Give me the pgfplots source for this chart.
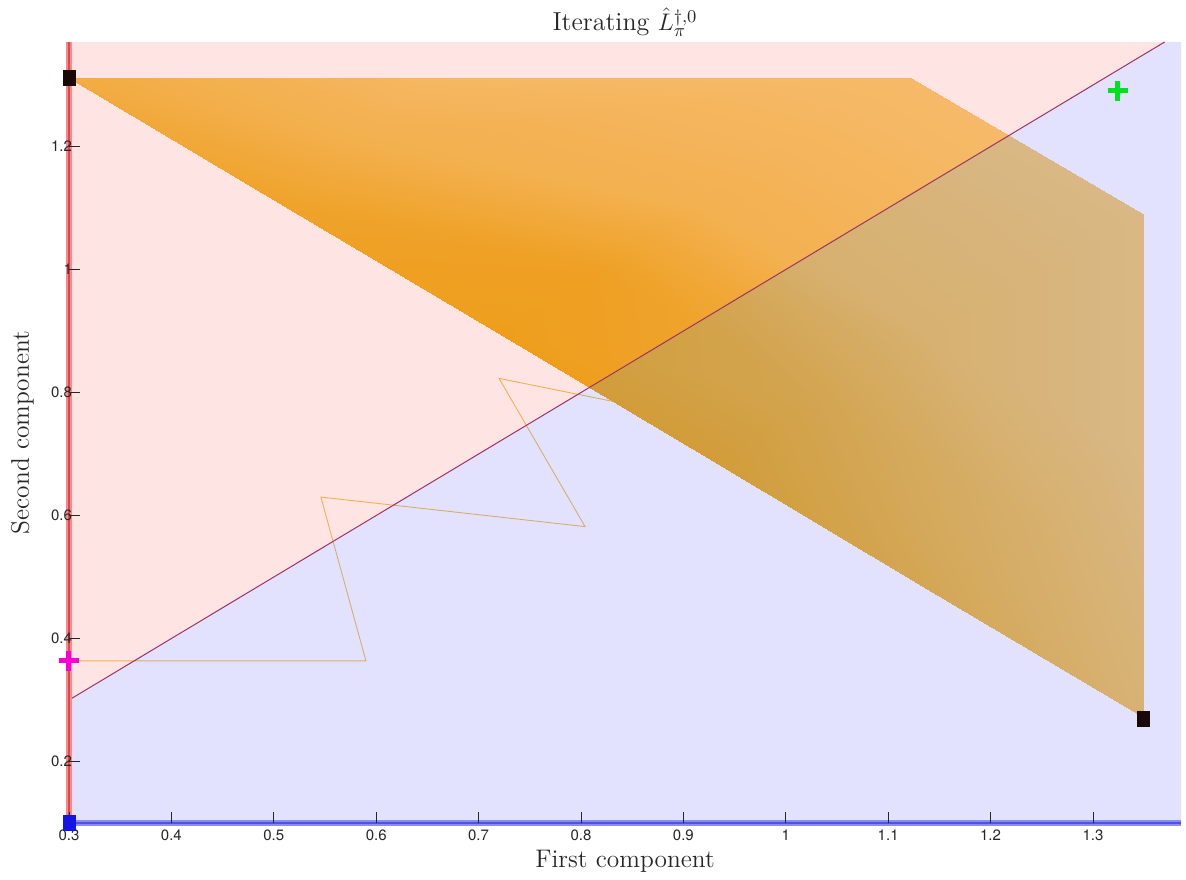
\documentclass[border=0pt]{standalone}
\usepackage{pgfplots}
\pgfplotsset{compat=1.18}
\usepackage{fontspec}
\newfontfamily\ticksf{TeX Gyre Heros}
\definecolor{tickgray}{RGB}{38,38,38}
\definecolor{morange}{RGB}{237,177,32}
\definecolor{diagline}{RGB}{160,50,100}
\definecolor{redthick}{RGB}{245,140,140}
\definecolor{redcore}{RGB}{225,70,80}
\definecolor{bluethick}{RGB}{140,140,240}
\definecolor{bluecore}{RGB}{80,80,225}
\definecolor{mmag}{RGB}{250,0,215}
\definecolor{mgreen}{RGB}{0,225,30}
\definecolor{mblack}{RGB}{25,8,8}
\definecolor{mblue}{RGB}{20,20,230}
\begin{document}
\begin{tikzpicture}
\begin{axis}[
  scale only axis,
  width=556pt, height=390.5pt,
  xmin=0.3, xmax=1.386, ymin=0.1, ymax=1.37,
  clip=false,
  axis on top,
  axis lines*=left,
  axis line style={draw=none},
  xtick={0.3,0.4,0.5,0.6,0.7,0.8,0.9,1,1.1,1.2,1.3},
  ytick={0.2,0.4,0.6,0.8,1,1.2},
  tick align=inside,
  major tick length=5.5pt,
  tick style={tickgray, line width=0.4pt},
  /pgf/number format/assume math mode=true,
  ticklabel style={font=\ticksf\fontsize{7.5}{8}\selectfont, text=tickgray},
  yticklabel style={xshift=5pt},
  xlabel={First component},
  ylabel={Second component},
  title={Iterating $\hat{L}_{\pi}^{\dagger,0}$},
  label style={font=\fontsize{12.7}{14}\selectfont, text=tickgray},
  xlabel style={at={(axis description cs:0.5,0)}, anchor=base, yshift=-22pt},
  ylabel style={at={(axis description cs:0,0.5)}, anchor=base, yshift=20pt},
  title style={font=\fontsize{13}{15}\selectfont, text=black!85, at={(axis description cs:0.5,1)}, anchor=base, yshift=-0.5pt},
  colormap={fanmap}{rgb255=(255,248,228) rgb255=(237,177,32)},
  point meta min=0, point meta max=1,
]
% dense fan of iterates (density)
\addplot[patch, patch type=triangle, shader=interp, point meta=explicit] table[meta=c] {
x y c
0.3 1.312 0.78
0.51 1.104 0.92
0.545 1.156 0.82
0.3 1.312 0.78
0.545 1.156 0.82
0.58 1.208 0.72
0.3 1.312 0.78
0.58 1.208 0.72
0.65 1.312 0.6
0.51 1.104 0.92
0.719 0.896 1.0
0.82 1.0 0.95
0.51 1.104 0.92
0.82 1.0 0.95
0.545 1.156 0.82
0.545 1.156 0.82
0.82 1.0 0.95
0.9205 1.104 0.7
0.545 1.156 0.82
0.9205 1.104 0.7
0.58 1.208 0.72
0.58 1.208 0.72
0.9205 1.104 0.7
1.122 1.312 0.56
0.58 1.208 0.72
1.122 1.312 0.56
0.65 1.312 0.6
0.719 0.896 1.0
0.929 0.688 1.0
1.0335 0.7885 0.86
0.719 0.896 1.0
1.0335 0.7885 0.86
0.82 1.0 0.95
0.82 1.0 0.95
1.0335 0.7885 0.86
1.138 0.889 0.68
0.82 1.0 0.95
1.138 0.889 0.68
0.9205 1.104 0.7
0.9205 1.104 0.7
1.138 0.889 0.68
1.349 1.09 0.56
0.9205 1.104 0.7
1.349 1.09 0.56
1.122 1.312 0.56
0.929 0.688 1.0
1.138 0.48 0.84
1.191 0.535 0.76
0.929 0.688 1.0
1.191 0.535 0.76
1.0335 0.7885 0.86
1.0335 0.7885 0.86
1.191 0.535 0.76
1.2435 0.59 0.7
1.0335 0.7885 0.86
1.2435 0.59 0.7
1.138 0.889 0.68
1.138 0.889 0.68
1.2435 0.59 0.7
1.349 0.7 0.56
1.138 0.889 0.68
1.349 0.7 0.56
1.349 1.09 0.56
1.138 0.48 0.84
1.349 0.272 0.66
1.191 0.535 0.76
1.191 0.535 0.76
1.349 0.272 0.66
1.2435 0.59 0.7
1.2435 0.59 0.7
1.349 0.272 0.66
1.349 0.7 0.56
};
% first iterates
\addplot[morange, line width=0.45pt, opacity=0.75] coordinates {
(0.3,0.3636) (0.590,0.3636) (0.546,0.630) (0.804,0.582) (0.720,0.823) (0.830,0.786)
};
% regions
\addplot[draw=none, fill=red, fill opacity=0.105] coordinates {
(0.3,0.3) (0.3,1.37) (1.37,1.37)
} -- cycle;
\addplot[draw=none, fill=blue, fill opacity=0.115] coordinates {
(0.3,0.1) (0.3,0.3) (1.37,1.37) (1.386,1.37) (1.386,0.1)
} -- cycle;
% diagonal
\addplot[diagline, line width=0.5pt] coordinates {(0.3,0.3) (1.37,1.37)};
% boundary lines
\addplot[redthick, line width=3pt] coordinates {(0.3,0.1) (0.3,1.37)};
\addplot[redcore, line width=0.7pt] coordinates {(0.3,0.1) (0.3,1.37)};
\addplot[bluethick, line width=3pt] coordinates {(0.3,0.1) (1.386,0.1)};
\addplot[bluecore, line width=0.7pt] coordinates {(0.3,0.1) (1.386,0.1)};
% markers
\addplot[only marks, mark=square*, mark size=3pt, mark options={yscale=1.25, fill=mblack, draw=mblack}] coordinates {(0.3,1.312) (1.349,0.269)};
\addplot[only marks, mark=square*, mark size=3pt, mark options={yscale=1.25, fill=mblue, draw=mblue}] coordinates {(0.3,0.1)};
\addplot[only marks, mark=+, mark size=5pt, mark options={line width=2.5pt, draw=mmag}] coordinates {(0.3,0.3636)};
\addplot[only marks, mark=+, mark size=5pt, mark options={line width=2.5pt, draw=mgreen}] coordinates {(1.324,1.291)};
\end{axis}
\pgfresetboundingbox
\path ([xshift=-34.5pt,yshift=-28pt]current axis.south west) rectangle ([xshift=2.5pt,yshift=21pt]current axis.north east);
\end{tikzpicture}
\end{document}
